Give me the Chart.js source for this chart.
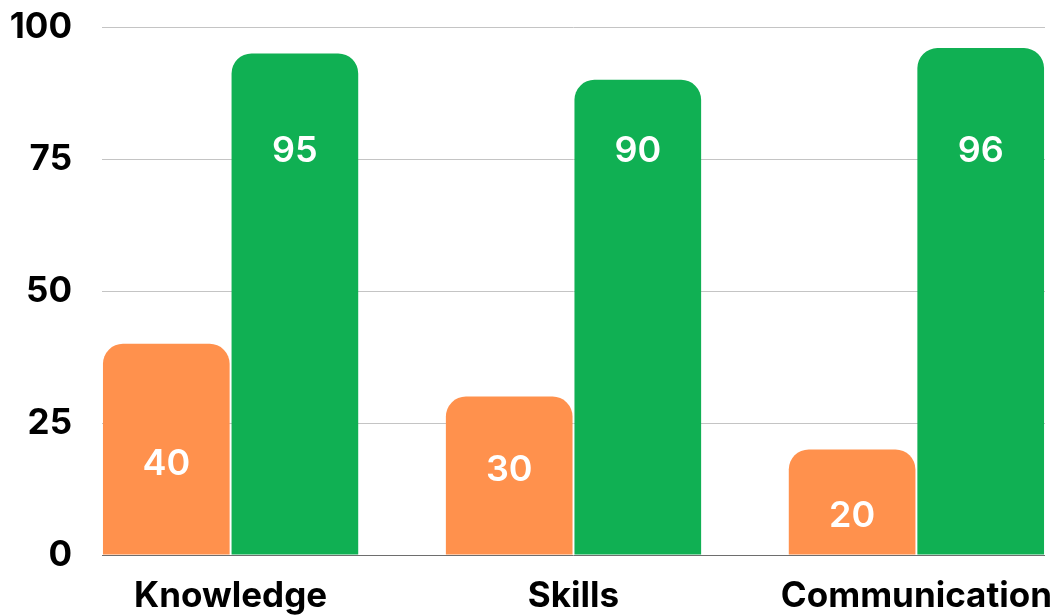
<!DOCTYPE html>
<html lang="en">

<head>
  <meta charset="UTF-8" />
  <title>Before / after</title>
  <script src="https://cdn.jsdelivr.net/npm/chart.js"></script>
  <style>
    html, body { margin: 0; padding: 0; background: #fff; }
    #wrap { position: relative; width: 1059px; height: 615px; }
  </style>
</head>

<body>
  <div id="wrap">
    <canvas id="skillsChart"></canvas>
  </div>

  <script>
    const categories = ['Knowledge', 'Skills', 'Communication'];
    const beforeValues = [40, 30, 20];
    const afterValues = [95, 90, 96];
    const yTicks = [0, 25, 50, 75, 100];

    // where the white value labels sit, in axis units
    const beforeLabelAt = [17.2, 16.0, 7.3];
    const afterLabelAt = [76.5, 76.5, 76.5];

    const FONT = 'Inter, Lato, sans-serif';
    const ORANGE = '#ff914d';
    const GREEN = '#10b053';

    const valueLabels = {
      id: 'valueLabels',
      afterDatasetsDraw(chart) {
        const ctx = chart.ctx;
        const yScale = chart.scales.y;
        const anchors = [beforeLabelAt, afterLabelAt];
        ctx.save();
        ctx.fillStyle = '#ffffff';
        ctx.font = '600 36px ' + FONT;
        ctx.textAlign = 'center';
        ctx.textBaseline = 'middle';
        chart.data.datasets.forEach((ds, di) => {
          chart.getDatasetMeta(di).data.forEach((bar, i) => {
            ctx.fillText(String(ds.data[i].y), bar.x, yScale.getPixelForValue(anchors[di][i]));
          });
        });
        ctx.restore();
      }
    };

    const toPoints = vals => vals.map((v, i) => ({ x: i, y: v }));

    new Chart(document.getElementById('skillsChart'), {
      type: 'bar',
      data: {
        datasets: [{
          label: 'Before',
          data: toPoints(beforeValues),
          backgroundColor: ORANGE,
          borderRadius: { topLeft: 20, topRight: 20 },
          borderSkipped: 'start',
          categoryPercentage: 0.75,
          barPercentage: 0.985
        }, {
          label: 'After',
          data: toPoints(afterValues),
          backgroundColor: GREEN,
          borderRadius: { topLeft: 20, topRight: 20 },
          borderSkipped: 'start',
          categoryPercentage: 0.75,
          barPercentage: 0.985
        }]
      },
      options: {
        responsive: true,
        maintainAspectRatio: false,
        animation: false,
        layout: { padding: { top: 27, right: 14, left: 0, bottom: 0 } },
        plugins: { legend: { display: false }, tooltip: { enabled: false } },
        scales: {
          x: {
            type: 'linear',
            offset: false,
            min: -0.375,
            max: 2.375,
            afterBuildTicks: scale => { scale.ticks = categories.map((c, i) => ({ value: i })); },
            afterFit: scale => {
              scale.height = 60;
              scale.paddingLeft = 0;
              scale.paddingRight = 0;
            },
            grid: { display: false, offset: false },
            border: { display: false },
            ticks: {
              callback: v => categories[v],
              color: '#000',
              font: { family: FONT, size: 35, weight: 'bold' },
              padding: 12,
              maxRotation: 0,
              autoSkip: false
            }
          },
          y: {
            min: 0,
            max: 100,
            afterBuildTicks: scale => { scale.ticks = yTicks.map(v => ({ value: v })); },
            afterFit: scale => {
              scale.width = 102;
              scale.paddingTop = 0;
              scale.paddingBottom = 0;
            },
            border: { display: false },
            grid: {
              drawTicks: false,
              color: ctx => ctx.tick && ctx.tick.value === 0 ? '#6e6e6e' : '#c4c4c4',
              lineWidth: 1
            },
            ticks: {
              color: '#000',
              font: { family: FONT, size: 35, weight: 'bold' },
              padding: 30
            }
          }
        }
      },
      plugins: [valueLabels]
    });
  </script>
</body>

</html>
